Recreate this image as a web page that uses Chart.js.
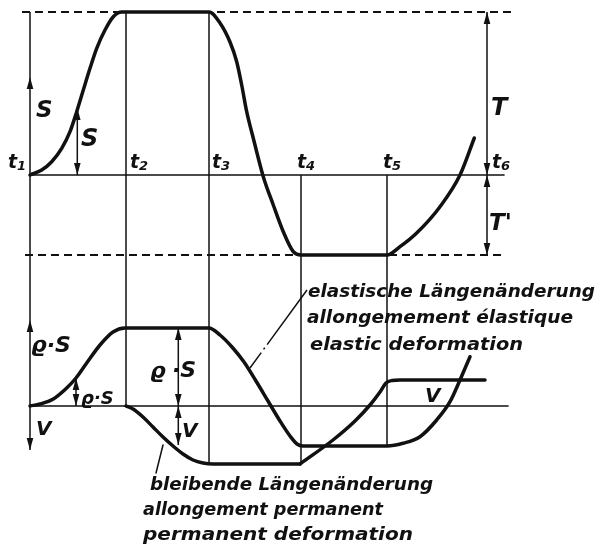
<!DOCTYPE html>
<html>
<head>
<meta charset="utf-8">
<script src="https://cdn.jsdelivr.net/npm/chart.js@4.4.1/dist/chart.umd.min.js"></script>
<style>
  html, body { margin: 0; padding: 0; background: #fff; }
  canvas { display: block; }
</style>
</head>
<body>
<canvas id="chart" width="598" height="551"></canvas>
<script>
// time marks t1..t6 (t1 = 0)
const timeNames = ['1', '2', '3', '4', '5', '6'];
const timeMarks = [0, 9.6, 17.9, 27.1, 35.7, 45.7];

// upper diagram: stress S over time, swinging between T and T'
const stressMax = 16.3;
const stressMin = -8.0;
const stressT = [0, 1.17, 2.17, 3.17, 4.0, 4.67, 5.33, 6.0, 6.67, 7.5, 8.33, 9.17, 9.6,
                 17.9, 19.0, 20.0, 20.67, 21.17, 21.67, 22.33, 23.33, 24.33, 25.33, 26.33, 27.1,
                 35.7, 37.0, 38.67, 41.0, 43.0, 44.43];
const stressS = [0, 0.5, 1.33, 2.67, 4.33, 6.33, 8.5, 10.67, 12.67, 14.5, 15.83, 16.3, 16.3,
                 16.3, 15.2, 13.3, 11.33, 9.0, 6.33, 3.67, -0.17, -3.0, -5.67, -7.67, -8.0,
                 -8.0, -7.17, -5.8, -3.17, 0, 3.7];

// lower diagram: elastic deformation (rho*S)
const elasticT = [0, 1.0, 2.33, 3.67, 4.6, 5.67, 7.0, 8.3, 9.5,
                  17.9, 19.0, 20.2, 21.4, 22.6, 23.8, 25.0, 26.0, 26.7, 27.3,
                  35.7, 37.3, 39.0, 40.67, 42.0, 43.0, 44.0];
const elasticE = [0, 0.2, 0.7, 1.8, 2.8, 4.3, 6.1, 7.4, 7.8,
                  7.8, 7.1, 5.9, 4.4, 2.5, 0.5, -1.5, -3.0, -3.8, -4.0,
                  -4.0, -3.73, -3.07, -1.4, 0.43, 2.6, 4.93];
// permanent deformation (V): going down t2..t4, coming back up after t4
const permanentT = [9.6, 10.3, 11.3, 12.3, 13.3, 14.3, 15.3, 16.3, 17.3, 18.3, 27.0];
const permanentV = [0, -0.3, -1.1, -2.1, -3.1, -4.0, -4.8, -5.4, -5.7, -5.8, -5.8];
const recoveryT = [27.0, 30.3, 32.5, 34.0, 35.0, 35.6, 36.2, 37.0, 45.5];
const recoveryV = [-5.8, -3.4, -1.5, 0.1, 1.4, 2.3, 2.55, 2.6, 2.6];

const ink = '#111';

function series(xs, ys, axis, width, dash) {
  return {
    data: xs.map((x, i) => ({ x: x, y: ys[i] })),
    yAxisID: axis,
    borderColor: ink,
    borderWidth: width,
    borderDash: dash || [],
    borderCapStyle: dash ? 'butt' : 'round',
    pointRadius: 0,
    cubicInterpolationMode: 'monotone',
    fill: false
  };
}

const datasets = [
  // reference lines
  series([-0.8, 48.2], [stressMax, stressMax], 'yU', 2, [8, 5]),
  series([-0.5, 47.4], [stressMin, stressMin], 'yU', 2, [8, 5]),
  series([0, 47.4], [0, 0], 'yU', 1.6),
  series([0, 47.8], [0, 0], 'yL', 1.6),
  // leaders to the captions
  series([22.0, 27.7], [3.8, 11.6], 'yL', 1.5, [19, 4, 2, 4, 200, 0]),
  series([13.3, 12.6], [-3.9, -6.7], 'yL', 1.5),
  // curves
  series(stressT, stressS, 'yU', 3.5),
  series(elasticT, elasticE, 'yL', 3.5),
  series(permanentT, permanentV, 'yL', 3.5),
  series(recoveryT, recoveryV, 'yL', 3.5)
];

// vertical time lines: upper end on yU, lower end on yL
const verticals = [
  { top: stressMax, topAxis: 'yU', bottom: -4.4, bottomAxis: 'yL' },
  { top: stressMax, topAxis: 'yU', bottom: 0, bottomAxis: 'yL' },
  { top: stressMax, topAxis: 'yU', bottom: -5.8, bottomAxis: 'yL' },
  { top: 0, topAxis: 'yU', bottom: -5.8, bottomAxis: 'yL' },
  { top: 0, topAxis: 'yU', bottom: -4.0, bottomAxis: 'yL' }
];

// double headed measuring arrows
const measures = [
  { x: 4.73, axis: 'yU', from: 0, to: 6.7 },
  { x: 45.7, axis: 'yU', from: 0, to: stressMax },
  { x: 45.7, axis: 'yU', from: 0, to: stressMin },
  { x: 4.6, axis: 'yL', from: 0, to: 2.8 },
  { x: 14.83, axis: 'yL', from: 0, to: 7.8 },
  { x: 14.83, axis: 'yL', from: 0, to: -3.9 }
];
// single heads sitting on the t1 line
const heads = [
  { x: 0, axis: 'yU', tip: 9.8, up: true },
  { x: 0, axis: 'yL', tip: 8.6, up: true },
  { x: 0, axis: 'yL', tip: -4.4, up: false }
];

const notes = [
  { t: 'S', axis: 'yU', x: 0.6, y: 5.8, size: 23 },
  { t: 'S', axis: 'yU', x: 5.1, y: 2.9, size: 24 },
  { t: 'T', axis: 'yU', x: 46.1, y: 6.0, size: 24 },
  { t: "T'", axis: 'yU', x: 45.9, y: -5.5, size: 23 },
  { t: 'ϱ·S', axis: 'yL', x: 0.1, y: 5.4, size: 22 },
  { t: 'ϱ·S', axis: 'yL', x: 5.1, y: 0.2, size: 18 },
  { t: 'ϱ', axis: 'yL', x: 12.0, y: 2.8, size: 22 },
  { t: '·S', axis: 'yL', x: 14.2, y: 2.9, size: 22 },
  { t: 'V', axis: 'yL', x: 0.6, y: -2.9, size: 20 },
  { t: 'V', axis: 'yL', x: 15.2, y: -3.1, size: 20 },
  { t: 'V', axis: 'yL', x: 39.5, y: 0.4, size: 20 },
  { t: 'elastische Längenänderung', axis: 'yL', x: 27.8, y: 10.9, size: 18, w: 287 },
  { t: 'allongemement élastique', axis: 'yL', x: 27.7, y: 8.3, size: 18, w: 266 },
  { t: 'elastic deformation', axis: 'yL', x: 28.0, y: 5.6, size: 18, w: 213 },
  { t: 'bleibende Längenänderung', axis: 'yL', x: 12.0, y: -8.4, size: 18, w: 283 },
  { t: 'allongement permanent', axis: 'yL', x: 11.3, y: -10.9, size: 18, w: 240 },
  { t: 'permanent deformation', axis: 'yL', x: 11.3, y: -13.4, size: 18, w: 270 }
];
// t-label offsets (left of each line, just above the upper baseline)
const tLabelX = [-2.2, 10.0, 18.2, 26.7, 35.3, 46.2];

function drawText(ctx, str, x, y, size, width) {
  ctx.font = 'italic bold ' + size + 'px "DejaVu Sans"';
  if (width) {
    const w = ctx.measureText(str).width;
    ctx.save();
    ctx.translate(x, y);
    ctx.scale(width / w, 1);
    ctx.fillText(str, 0, 0);
    ctx.restore();
  } else {
    ctx.fillText(str, x, y);
  }
}

function arrowHead(ctx, x, y, up) {
  const d = up ? 1 : -1;
  ctx.beginPath();
  ctx.moveTo(x, y);
  ctx.lineTo(x - 3.3, y + d * 12);
  ctx.lineTo(x + 3.3, y + d * 12);
  ctx.closePath();
  ctx.fill();
}

const diagramPlugin = {
  id: 'diagram',
  beforeDatasetsDraw(chart) {
    const ctx = chart.ctx;
    const sx = chart.scales.x;
    ctx.save();
    ctx.strokeStyle = ink;
    ctx.lineWidth = 1.5;
    verticals.forEach((v, i) => {
      const x = sx.getPixelForValue(timeMarks[i]);
      ctx.beginPath();
      ctx.moveTo(x, chart.scales[v.topAxis].getPixelForValue(v.top));
      ctx.lineTo(x, chart.scales[v.bottomAxis].getPixelForValue(v.bottom));
      ctx.stroke();
    });
    ctx.restore();
  },
  afterDatasetsDraw(chart) {
    const ctx = chart.ctx;
    const sx = chart.scales.x;
    ctx.save();
    ctx.strokeStyle = ink;
    ctx.fillStyle = ink;
    ctx.lineWidth = 1.5;
    measures.forEach(m => {
      const x = sx.getPixelForValue(m.x);
      const y0 = chart.scales[m.axis].getPixelForValue(m.from);
      const y1 = chart.scales[m.axis].getPixelForValue(m.to);
      ctx.beginPath();
      ctx.moveTo(x, y0);
      ctx.lineTo(x, y1);
      ctx.stroke();
      arrowHead(ctx, x, y1, y1 < y0);
      arrowHead(ctx, x, y0, y0 < y1);
    });
    heads.forEach(h => {
      arrowHead(ctx, sx.getPixelForValue(h.x), chart.scales[h.axis].getPixelForValue(h.tip), h.up);
    });

    ctx.textAlign = 'left';
    ctx.textBaseline = 'alphabetic';
    notes.forEach(n => {
      drawText(ctx, n.t, sx.getPixelForValue(n.x), chart.scales[n.axis].getPixelForValue(n.y), n.size, n.w);
    });
    timeNames.forEach((name, i) => {
      const x = sx.getPixelForValue(tLabelX[i]);
      const y = chart.scales.yU.getPixelForValue(0.75);
      drawText(ctx, 't', x, y, 19);
      drawText(ctx, name, x + 9, y + 2, 13);
    });
    ctx.restore();
  }
};

new Chart(document.getElementById('chart'), {
  type: 'line',
  data: { datasets: datasets },
  options: {
    responsive: false,
    animation: false,
    devicePixelRatio: 1,
    layout: { padding: 0 },
    plugins: { legend: { display: false }, tooltip: { enabled: false } },
    scales: {
      x: { type: 'linear', min: -3.0, max: 56.8, display: false },
      yU: { type: 'linear', min: -37.6, max: 17.5, display: false },
      yL: { type: 'linear', min: -14.5, max: 40.6, display: false }
    }
  },
  plugins: [diagramPlugin]
});
</script>
</body>
</html>
